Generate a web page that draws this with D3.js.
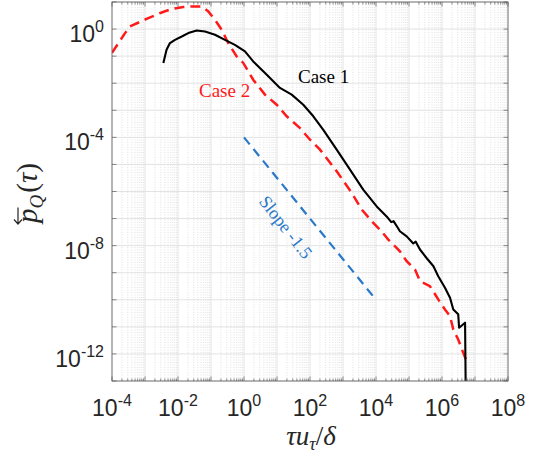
<!DOCTYPE html>
<html>
<head>
<meta charset="utf-8">
<script src="https://cdn.jsdelivr.net/npm/d3@7"></script>
<style>
  body { margin: 0; background: #fff; }
</style>
</head>
<body>
<div id="chart"></div>
<script>
// Case 1 (solid black)
var case1Tau = [3.6e-3, 4.5e-3, 5.7e-3, 8.1e-3, 1.3e-2, 2.05e-2, 3.7e-2, 6.6e-2, 0.132, 0.265, 0.53, 1.07, 1.9, 4.9, 12.3, 27.9, 62.6, 126, 253, 644, 1.63e3, 4.1e3, 1.05e4, 2.1e4, 2.9e4, 3.4e4, 4.2e4, 5.3e4, 8.5e4, 1.35e5, 1.6e5, 2.15e5, 3.4e5, 5.5e5, 7.7e5, 1.23e6, 1.75e6, 2.2e6, 3.1e6, 3.3e6, 5.0e6, 5.3e6]
var case1P = [5.6e-2, 0.172, 0.304, 0.40, 0.53, 0.71, 0.89, 0.81, 0.62, 0.40, 0.26, 0.149, 6.4e-2, 2.06e-2, 6.7e-3, 3.8e-3, 1.6e-3, 6.0e-4, 1.9e-4, 3.5e-5, 6.4e-6, 1.17e-6, 2.8e-7, 1.2e-7, 7.4e-8, 8.0e-8, 5.4e-8, 3.4e-8, 2.2e-8, 1.2e-8, 1.4e-8, 7.2e-9, 3.5e-9, 1.74e-9, 7.4e-10, 2.8e-10, 1.19e-10, 4.4e-11, 2.9e-11, 9.3e-12, 1.42e-11, 1e-14]

// Case 2 (dashed red)
var case2Tau = [1e-4, 2.48e-4, 3.5e-4, 1.26e-3, 3.2e-3, 6.4e-3, 1.45e-2, 2.6e-2, 5.2e-2, 8.3e-2, 0.132, 0.211, 0.334, 0.60, 0.95, 1.9, 4.3, 9.8, 19.7, 50, 100, 201, 644, 1.84e3, 3.7e3, 8.3e3, 1.32e4, 2.36e4, 4.2e4, 5.3e4, 8.5e4, 1.52e5, 2.15e5, 4.3e5, 7.7e5, 1.23e6, 1.75e6, 2.2e6, 3.1e6, 4.4e6, 5.85e6]
var case2P = [0.133, 0.71, 1.25, 2.55, 4.1, 5.5, 6.5, 6.8, 6.8, 4.5, 2.2, 0.94, 0.30, 9.7e-2, 5.6e-2, 1.35e-2, 3.8e-3, 1.6e-3, 6.0e-4, 2.2e-4, 8.2e-5, 3.5e-5, 5.6e-6, 8.9e-7, 2.15e-7, 6.9e-8, 3.9e-8, 1.68e-8, 8.3e-9, 6.2e-9, 2.65e-9, 1.31e-9, 4.9e-10, 3.2e-10, 1.03e-10, 4.4e-11, 2.5e-11, 8.0e-12, 3.4e-12, 1.1e-12, 4.7e-13]

// reference slope line
var slopeTau = [1, 1e4]
var slopeP = [1e-4, 1e-10]

var xTickExp = [-4, -2, 0, 2, 4, 6, 8]
var yTickExp = [0, -4, -8, -12]

var width = 538, height = 459
var plotL = 112, plotR = 508, plotT = 2, plotB = 381
var axisColor = "#5a5a5a"

var svg = d3.select("#chart")
            .append("svg")
            .attr("width", width)
            .attr("height", height)
            .style("font-family", "'Liberation Sans', Arial, sans-serif")

var xscale = d3.scaleLog().domain([1e-4, 1e8]).range([plotL, plotR])
var yscale = d3.scaleLog().domain([1e-13, 1e1]).range([plotB, plotT])

// decades and minor values
var xDecades = d3.range(-4, 9).map(e => Math.pow(10, e))
var xMinor = []
d3.range(-4, 8).forEach(function(e){
  for (var k = 2; k <= 9; k++) xMinor.push(k * Math.pow(10, e))
})
var yDecades = d3.range(-13, 2).map(e => Math.pow(10, e))

// grid
var grid = svg.append("g")
grid.selectAll(".xminor").data(xMinor).enter().append("line")
  .attr("x1", d => xscale(d)).attr("x2", d => xscale(d))
  .attr("y1", plotT).attr("y2", plotB)
  .attr("stroke", "#d4d4d4").attr("stroke-width", 0.7)
  .attr("stroke-dasharray", "1,1.5")
grid.selectAll(".xmajor").data(xDecades).enter().append("line")
  .attr("x1", d => xscale(d)).attr("x2", d => xscale(d))
  .attr("y1", plotT).attr("y2", plotB)
  .attr("stroke", "#e0e0e0").attr("stroke-width", 0.9)
grid.selectAll(".ymajor").data(yDecades).enter().append("line")
  .attr("y1", d => yscale(d)).attr("y2", d => yscale(d))
  .attr("x1", plotL).attr("x2", plotR)
  .attr("stroke", "#e0e0e0").attr("stroke-width", 0.9)

// clip for the curves
svg.append("clipPath").attr("id", "plotclip")
  .append("rect").attr("x", plotL).attr("y", plotT)
  .attr("width", plotR - plotL).attr("height", plotB - plotT)

var line = d3.line().x(d => xscale(d[0])).y(d => yscale(d[1]))
var curves = svg.append("g").attr("clip-path", "url(#plotclip)")

curves.append("path")
  .datum(d3.zip(slopeTau, slopeP))
  .attr("d", line)
  .attr("fill", "none")
  .attr("stroke", "#2a78c8")
  .attr("stroke-width", 2.2)
  .attr("stroke-dasharray", "9,6")

curves.append("path")
  .datum(d3.zip(case2Tau, case2P))
  .attr("d", line)
  .attr("fill", "none")
  .attr("stroke", "#ff1a1a")
  .attr("stroke-width", 2.5)
  .attr("stroke-dasharray", "10,6")

curves.append("path")
  .datum(d3.zip(case1Tau, case1P))
  .attr("d", line)
  .attr("fill", "none")
  .attr("stroke", "#000")
  .attr("stroke-width", 2.1)
  .attr("stroke-linejoin", "round")

// axis box
svg.append("rect")
  .attr("x", plotL).attr("y", plotT)
  .attr("width", plotR - plotL).attr("height", plotB - plotT)
  .attr("fill", "none").attr("stroke", axisColor).attr("stroke-width", 0.8)

// tick marks (inside, MATLAB style)
var ticks = svg.append("g").attr("stroke", axisColor).attr("stroke-width", 0.7)
xDecades.forEach(function(d){
  ticks.append("line").attr("x1", xscale(d)).attr("x2", xscale(d)).attr("y1", plotB).attr("y2", plotB - 4.5)
  ticks.append("line").attr("x1", xscale(d)).attr("x2", xscale(d)).attr("y1", plotT).attr("y2", plotT + 4.5)
})
xMinor.forEach(function(d){
  ticks.append("line").attr("x1", xscale(d)).attr("x2", xscale(d)).attr("y1", plotB).attr("y2", plotB - 2.5)
  ticks.append("line").attr("x1", xscale(d)).attr("x2", xscale(d)).attr("y1", plotT).attr("y2", plotT + 2.5)
})
yDecades.forEach(function(d){
  ticks.append("line").attr("y1", yscale(d)).attr("y2", yscale(d)).attr("x1", plotL).attr("x2", plotL + 4.5)
  ticks.append("line").attr("y1", yscale(d)).attr("y2", yscale(d)).attr("x1", plotR).attr("x2", plotR - 4.5)
})

// tick labels as 10^n
var xlab = svg.append("g").attr("fill", "#262626")
xTickExp.forEach(function(e){
  var t = xlab.append("text")
    .attr("x", xscale(Math.pow(10, e)))
    .attr("y", 416)
    .attr("text-anchor", "middle")
    .style("font-size", "23px")
  t.append("tspan").text("10")
  t.append("tspan").attr("dy", -10).style("font-size", "16px").text(e)
})

var ylab = svg.append("g").attr("fill", "#262626")
yTickExp.forEach(function(e){
  var t = ylab.append("text")
    .attr("x", 104)
    .attr("y", yscale(Math.pow(10, e)) + 13)
    .attr("text-anchor", "end")
    .style("font-size", "23px")
  t.append("tspan").text("10")
  t.append("tspan").attr("dy", -10).style("font-size", "16px").text(e)
})

// axis labels (serif, math style)
var serif = "'Liberation Serif', 'Times New Roman', serif"
var xl = svg.append("text")
  .attr("x", 311).attr("y", 445)
  .attr("text-anchor", "middle")
  .style("font-family", serif).style("font-size", "27px").attr("fill", "#262626")
xl.append("tspan").style("font-style", "italic").text("τu")
xl.append("tspan").attr("dy", 5).style("font-size", "18px").style("font-style", "italic").text("τ")
xl.append("tspan").attr("dy", -5).text("/")
xl.append("tspan").style("font-style", "italic").text("δ")

var yg = svg.append("g").attr("transform", "translate(37,193) rotate(-90)")
var yl = yg.append("text")
  .attr("x", 0).attr("y", 0)
  .attr("text-anchor", "middle")
  .style("font-family", serif).style("font-size", "29px").attr("fill", "#262626")
yl.append("tspan").style("font-style", "italic").text("p")
yl.append("tspan").attr("dy", 6).style("font-size", "19px").style("font-style", "italic").text("Q")
yl.append("tspan").attr("dy", -6).attr("dx", 2).text("(")
yl.append("tspan").style("font-style", "italic").text("τ")
yl.append("tspan").text(")")

// left arrow over the p
var pBox = yl.node().getExtentOfChar(0)
var ax0 = pBox.x - 1, ax1 = pBox.x + pBox.width + 1, ay = -19
yg.append("path")
  .attr("d", "M" + ax1 + "," + ay + "H" + ax0 + "M" + (ax0 + 4.5) + "," + (ay - 4) + "L" + ax0 + "," + ay + "L" + (ax0 + 4.5) + "," + (ay + 4))
  .attr("fill", "none").attr("stroke", "#262626").attr("stroke-width", 1.2)

// annotations
svg.append("text").attr("x", 298).attr("y", 83)
  .style("font-family", serif).style("font-size", "19px").attr("fill", "#000")
  .text("Case 1")
svg.append("text").attr("x", 199).attr("y", 97)
  .style("font-family", serif).style("font-size", "19px").attr("fill", "#ff1a1a")
  .text("Case 2")
svg.append("text")
  .attr("transform", "translate(286,227) rotate(52)")
  .attr("text-anchor", "middle").attr("dy", "0.35em")
  .style("font-family", serif).style("font-size", "18px").attr("fill", "#2a78c8")
  .text("Slope -1.5")
</script>
</body>
</html>
